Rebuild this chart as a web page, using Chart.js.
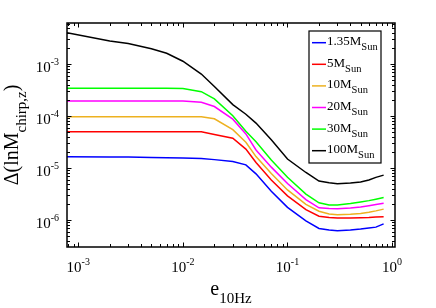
<!DOCTYPE html>
<html>
<head>
<meta charset="utf-8">
<script src="https://cdn.jsdelivr.net/npm/chart.js@4.4.1/dist/chart.umd.min.js"></script>
<style>
  html, body { margin: 0; padding: 0; background: #fff; }
  #wrap { width: 436px; height: 308px; }
</style>
</head>
<body>
<div id="wrap"><canvas id="chirp" width="436" height="308"></canvas></div>
<script>
// eccentricity at 10 Hz (x axis)
var eValues = [0.00078, 0.002, 0.003, 0.005, 0.007, 0.01, 0.015, 0.02, 0.03, 0.04, 0.05,
               0.07, 0.1, 0.15, 0.2, 0.25, 0.3, 0.4, 0.5, 0.6, 0.7, 0.83];

// Delta(ln M_chirp,z) per mass
var m135 = [1.65e-5, 1.63e-5, 1.62e-5, 1.60e-5, 1.58e-5, 1.56e-5, 1.53e-5, 1.45e-5, 1.33e-5, 1.15e-5, 7.73e-6,
            3.58e-6, 1.75e-6, 9.66e-7, 6.89e-7, 6.42e-7, 6.25e-7, 6.4e-7, 6.71e-7, 7.05e-7, 7.3e-7, 8.45e-7];
var m5 = [5.0e-5, 5.0e-5, 5.0e-5, 5.0e-5, 5.0e-5, 5.0e-5, 4.98e-5, 4.41e-5, 3.74e-5, 2.31e-5, 1.28e-5,
          5.88e-6, 2.92e-6, 1.58e-6, 1.18e-6, 1.12e-6, 1.09e-6, 1.10e-6, 1.11e-6, 1.12e-6, 1.14e-6, 1.16e-6];
var m10 = [9.7e-5, 9.7e-5, 9.7e-5, 9.7e-5, 9.7e-5, 9.7e-5, 9.7e-5, 8.83e-5, 5.46e-5, 3.12e-5, 1.66e-5,
           7.87e-6, 3.79e-6, 2.0e-6, 1.48e-6, 1.31e-6, 1.26e-6, 1.29e-6, 1.33e-6, 1.41e-6, 1.50e-6, 1.62e-6];
var m20 = [1.94e-4, 1.94e-4, 1.94e-4, 1.94e-4, 1.94e-4, 1.94e-4, 1.83e-4, 1.52e-4, 8.7e-5, 4.53e-5, 2.22e-5,
           1.04e-5, 5.03e-6, 2.47e-6, 1.72e-6, 1.66e-6, 1.64e-6, 1.70e-6, 1.78e-6, 1.88e-6, 1.98e-6, 2.10e-6];
var m30 = [3.4e-4, 3.4e-4, 3.4e-4, 3.4e-4, 3.4e-4, 3.38e-4, 2.94e-4, 2.13e-4, 1.01e-4, 5.08e-5, 3.19e-5,
           1.42e-5, 6.65e-6, 3.15e-6, 2.14e-6, 1.94e-6, 1.94e-6, 2.07e-6, 2.22e-6, 2.36e-6, 2.51e-6, 2.70e-6];
var m100 = [4.0e-3, 2.78e-3, 2.47e-3, 1.96e-3, 1.61e-3, 1.13e-3, 6.4e-4, 3.7e-4, 1.66e-4, 1.08e-4, 7.3e-5,
            3.5e-5, 1.49e-5, 8.2e-6, 5.6e-6, 5.2e-6, 5.0e-6, 5.15e-6, 5.4e-6, 5.9e-6, 6.6e-6, 7.3e-6];

var legendNames = ['1.35', '5', '10', '20', '30', '100'];
var lineColors = ['#0000ff', '#ff0000', '#edb120', '#ff00ff', '#00ff00', '#000000'];

var xTicks = [1e-3, 1e-2, 1e-1, 1];
var xTickExp = ['-3', '-2', '-1', '0'];
var yTicks = [1e-6, 1e-5, 1e-4, 1e-3];
var yTickExp = ['-6', '-5', '-4', '-3'];

var SERIF = '"Liberation Serif", "Times New Roman", serif';

function pts(vals) {
    var out = [];
    vals.forEach(function (v, i) {
        out.push({ x: eValues[i], y: v });
    });
    return out;
}

var series = [m135, m5, m10, m20, m30, m100];
var datasets = [];
series.forEach(function (s, i) {
    datasets.push({
        label: legendNames[i],
        data: pts(s),
        borderColor: lineColors[i],
        backgroundColor: lineColors[i],
        borderWidth: 1.5,
        pointRadius: 0,
        tension: 0,
        fill: false
    });
});

// draw "10" with a raised exponent, returns width
function supWidth(ctx, base, exp) {
    ctx.font = '15px ' + SERIF;
    var w = ctx.measureText(base).width;
    ctx.font = '10px ' + SERIF;
    return w + ctx.measureText(exp).width;
}
function drawSup(ctx, base, exp, x, y) {
    ctx.font = '15px ' + SERIF;
    ctx.fillText(base, x, y);
    var w = ctx.measureText(base).width;
    ctx.font = '10px ' + SERIF;
    ctx.fillText(exp, x + w, y - 7);
}

// matlab style box, ticks, labels and legend
var matlabAxes = {
    id: 'matlabAxes',
    afterDraw: function (chart) {
        var ctx = chart.ctx;
        var a = chart.chartArea;
        var xs = chart.scales.x, ys = chart.scales.y;
        ctx.save();
        ctx.strokeStyle = '#000';
        ctx.fillStyle = '#000';

        // minor + major ticks, inward on all sides
        ctx.lineWidth = 1;
        for (var d = -4; d <= 0; d++) {
            for (var k = 1; k <= 9; k++) {
                var v = k * Math.pow(10, d);
                if (v < xs.min || v > xs.max) continue;
                var px = Math.round(xs.getPixelForValue(v)) + 0.5;
                var len = k == 1 ? 4.5 : 3;
                ctx.beginPath();
                ctx.moveTo(px, a.bottom); ctx.lineTo(px, a.bottom - len);
                ctx.moveTo(px, a.top); ctx.lineTo(px, a.top + len);
                ctx.stroke();
            }
        }
        for (var d2 = -7; d2 <= -2; d2++) {
            for (var k2 = 1; k2 <= 9; k2++) {
                var v2 = k2 * Math.pow(10, d2);
                if (v2 < ys.min || v2 > ys.max) continue;
                var py = Math.round(ys.getPixelForValue(v2)) + 0.5;
                var len2 = k2 == 1 ? 4.5 : 3;
                ctx.beginPath();
                ctx.moveTo(a.left, py); ctx.lineTo(a.left + len2, py);
                ctx.moveTo(a.right, py); ctx.lineTo(a.right - len2, py);
                ctx.stroke();
            }
        }

        // box
        ctx.lineWidth = 1.5;
        ctx.strokeRect(a.left, a.top, a.right - a.left, a.bottom - a.top);

        // tick labels
        ctx.textBaseline = 'alphabetic';
        ctx.textAlign = 'left';
        xTicks.forEach(function (t, i) {
            var cx = xs.getPixelForValue(t);
            var w = supWidth(ctx, '10', xTickExp[i]);
            drawSup(ctx, '10', xTickExp[i], cx - w / 2, a.bottom + 25);
        });
        yTicks.forEach(function (t, i) {
            var cy = ys.getPixelForValue(t);
            var w = supWidth(ctx, '10', yTickExp[i]);
            drawSup(ctx, '10', yTickExp[i], a.left - 8 - w, cy + 8);
        });

        // x label: e_10Hz
        ctx.font = '20px ' + SERIF;
        var we = ctx.measureText('e').width;
        ctx.font = '15px ' + SERIF;
        var ws = ctx.measureText('10Hz').width;
        var x0 = (a.left + a.right) / 2 - (we + ws) / 2;
        ctx.font = '20px ' + SERIF;
        ctx.fillText('e', x0, 295);
        ctx.font = '15px ' + SERIF;
        ctx.fillText('10Hz', x0 + we, 303);

        // y label: Delta(lnM_chirp,z)
        ctx.save();
        ctx.translate(0, (a.top + a.bottom) / 2);
        ctx.rotate(-Math.PI / 2);
        ctx.font = '20px ' + SERIF;
        var w1 = ctx.measureText('\u0394(lnM').width;
        var w3 = ctx.measureText(')').width;
        ctx.font = '15px ' + SERIF;
        var w2 = ctx.measureText('chirp,z').width;
        var sx = -(w1 + w2 + w3) / 2;
        ctx.font = '20px ' + SERIF;
        ctx.fillText('\u0394(lnM', sx, 18);
        ctx.font = '15px ' + SERIF;
        ctx.fillText('chirp,z', sx + w1, 26);
        ctx.font = '20px ' + SERIF;
        ctx.fillText(')', sx + w1 + w2, 18);
        ctx.restore();

        // legend
        var lx = 309, ly = 31, lw = 72, lh = 132;
        ctx.fillStyle = '#fff';
        ctx.fillRect(lx, ly, lw, lh);
        ctx.lineWidth = 1.2;
        ctx.strokeStyle = '#000';
        ctx.strokeRect(lx, ly, lw, lh);
        legendNames.forEach(function (name, i) {
            var ry = 42.7 + i * 21.6;
            ctx.strokeStyle = lineColors[i];
            ctx.lineWidth = 1.5;
            ctx.beginPath();
            ctx.moveTo(312, ry); ctx.lineTo(326, ry);
            ctx.stroke();
            ctx.fillStyle = '#000';
            ctx.font = '13px ' + SERIF;
            var txt = name + 'M';
            ctx.fillText(txt, 327, ry + 2.5);
            var tw = ctx.measureText(txt).width;
            ctx.font = '10.5px ' + SERIF;
            ctx.fillText('Sun', 327 + tw, ry + 7.5);
        });
        ctx.restore();
    }
};

var ctx = document.getElementById('chirp').getContext('2d');
var chart = new Chart(ctx, {
    type: 'line',
    data: { datasets: datasets },
    options: {
        responsive: false,
        animation: false,
        devicePixelRatio: 1,
        layout: { padding: { left: 67, right: 41, top: 23, bottom: 61 } },
        plugins: {
            legend: { display: false },
            tooltip: { enabled: false }
        },
        scales: {
            x: { type: 'logarithmic', min: 7.8e-4, max: 1.066, display: false },
            y: { type: 'logarithmic', min: 3.03e-7, max: 6.14e-3, display: false }
        }
    },
    plugins: [matlabAxes]
});
</script>
</body>
</html>
